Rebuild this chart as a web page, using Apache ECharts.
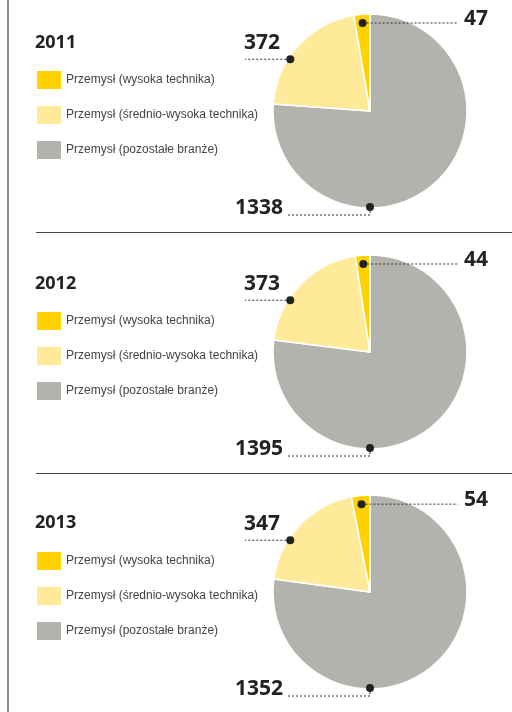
<!DOCTYPE html>
<html><head><meta charset="utf-8">
<script src="https://cdn.jsdelivr.net/npm/echarts@6/dist/echarts.min.js"></script>
<style>html,body{margin:0;padding:0;background:#fff}#c{width:512px;height:712px}</style>
</head><body><div id="c"></div>
<script>
// ---- data ----
const years = ['2011', '2012', '2013'];
const categories = ['Przemysł (wysoka technika)', 'Przemysł (średnio-wysoka technika)', 'Przemysł (pozostałe branże)'];
const highTech = [47, 44, 54];
const midHighTech = [372, 373, 347];
const otherIndustry = [1338, 1395, 1352];

// ---- style / layout ----
const colors = { high: '#FFD200', mid: '#FFEA99', other: '#B3B3AE' };
const cx = 370, R = 97;
const centersY = [111, 352, 592];
const legendTops = [69, 310, 550];
const titleTops = [34, 275, 514];
const labelFont = { fontFamily: 'Noto Sans', fontWeight: 'bold', fontSize: 21, color: '#222' };

function polarPt(cy, angDeg, r) {
  const a = angDeg * Math.PI / 180;
  return [cx + r * Math.sin(a), cy - r * Math.cos(a)];
}
// annotation anchor (dot) for each slice: dataIndex 0 other, 1 mid, 2 high
function anchor(k, idx) {
  const cy = centersY[k];
  const total = highTech[k] + midHighTech[k] + otherIndustry[k];
  if (idx === 2) return polarPt(cy, 360 - highTech[k] / total * 180, R * 0.91);
  if (idx === 1) return polarPt(cy, 303, R * 0.98);
  return polarPt(cy, 180, R * 0.99);
}

function sliceData(k, colored) {
  const c = (col) => colored ? { color: col } : { color: 'rgba(0,0,0,0)', borderWidth: 0 };
  return [
    { name: categories[2], value: otherIndustry[k], itemStyle: c(colors.other) },
    { name: categories[1], value: midHighTech[k], itemStyle: c(colors.mid) },
    { name: categories[0], value: highTech[k], itemStyle: c(colors.high) }
  ];
}

const pies = years.map((y, k) => ({
  type: 'pie',
  name: y,
  center: [cx, centersY[k]],
  radius: R,
  startAngle: 90,
  clockwise: true,
  animation: false,
  z: 2,
  itemStyle: { borderColor: '#fff', borderWidth: 1.5 },
  emphasis: { disabled: true },
  label: { show: false },
  labelLine: { show: false },
  data: sliceData(k, true)
}));

// transparent overlay carrying the value labels and leader lines above the slices
const labelPies = years.map((y, k) => ({
  type: 'pie',
  name: y + ' labels',
  center: [cx, centersY[k]],
  radius: R,
  startAngle: 90,
  clockwise: true,
  avoidLabelOverlap: false,
  animation: false,
  silent: true,
  z: 5,
  legendHoverLink: false,
  emphasis: { disabled: true },
  label: Object.assign({ show: true, position: 'outside', formatter: '{c}' }, labelFont),
  labelLine: { show: true, lineStyle: { color: '#333', width: 1, type: [2, 2] } },
  labelLayout: function (p) {
    const d = anchor(k, p.dataIndex);
    if (p.dataIndex === 2) {
      return { x: cx + 94, y: d[1] - 4, align: 'left', verticalAlign: 'middle',
        labelLinePoints: [d, [cx + 88, d[1]], [cx + 88, d[1]]] };
    }
    if (p.dataIndex === 1) {
      return { x: cx - 126, y: d[1] - 16, align: 'left', verticalAlign: 'middle',
        labelLinePoints: [d, [cx - 125, d[1]], [cx - 125, d[1]]] };
    }
    return { x: cx - 87, y: d[1] + 1, align: 'right', verticalAlign: 'middle',
      labelLinePoints: [d, [d[0], d[1] + 8], [cx - 83, d[1] + 8]] };
  },
  data: sliceData(k, false)
}));

const legends = years.map((y, k) => ({
  orient: 'vertical', left: 35, top: legendTops[k], padding: 0,
  itemWidth: 26, itemHeight: 20, itemGap: 13, icon: 'rect',
  selectedMode: false,
  textStyle: { fontFamily: 'Liberation Sans', fontSize: 12, color: '#444', padding: [0, 0, 0, -1] },
  data: categories
}));

const titles = years.map((y, k) => ({
  text: y, left: 35, top: titleTops[k], padding: 0,
  textStyle: { fontFamily: 'Noto Sans', fontWeight: 'bold', fontSize: 18, color: '#222' }
}));

const graphics = [
  { type: 'line', shape: { x1: 8, y1: 0, x2: 8, y2: 712 }, style: { stroke: '#8a8a8a', lineWidth: 2 } },
  { type: 'line', shape: { x1: 36, y1: 232.5, x2: 512, y2: 232.5 }, style: { stroke: '#444', lineWidth: 1 } },
  { type: 'line', shape: { x1: 36, y1: 473.5, x2: 512, y2: 473.5 }, style: { stroke: '#444', lineWidth: 1 } }
];
years.forEach((y, k) => {
  [0, 1, 2].forEach(idx => {
    const d = anchor(k, idx);
    graphics.push({ type: 'circle', z: 100, shape: { cx: d[0], cy: d[1], r: 4 }, style: { fill: '#222' } });
  });
});

const chart = echarts.init(document.getElementById('c'), null, { renderer: 'canvas' });
chart.setOption({
  animation: false,
  backgroundColor: '#fff',
  textStyle: { fontFamily: 'Noto Sans' },
  title: titles,
  legend: legends,
  series: pies.concat(labelPies),
  graphic: graphics
});
</script>
</body></html>
